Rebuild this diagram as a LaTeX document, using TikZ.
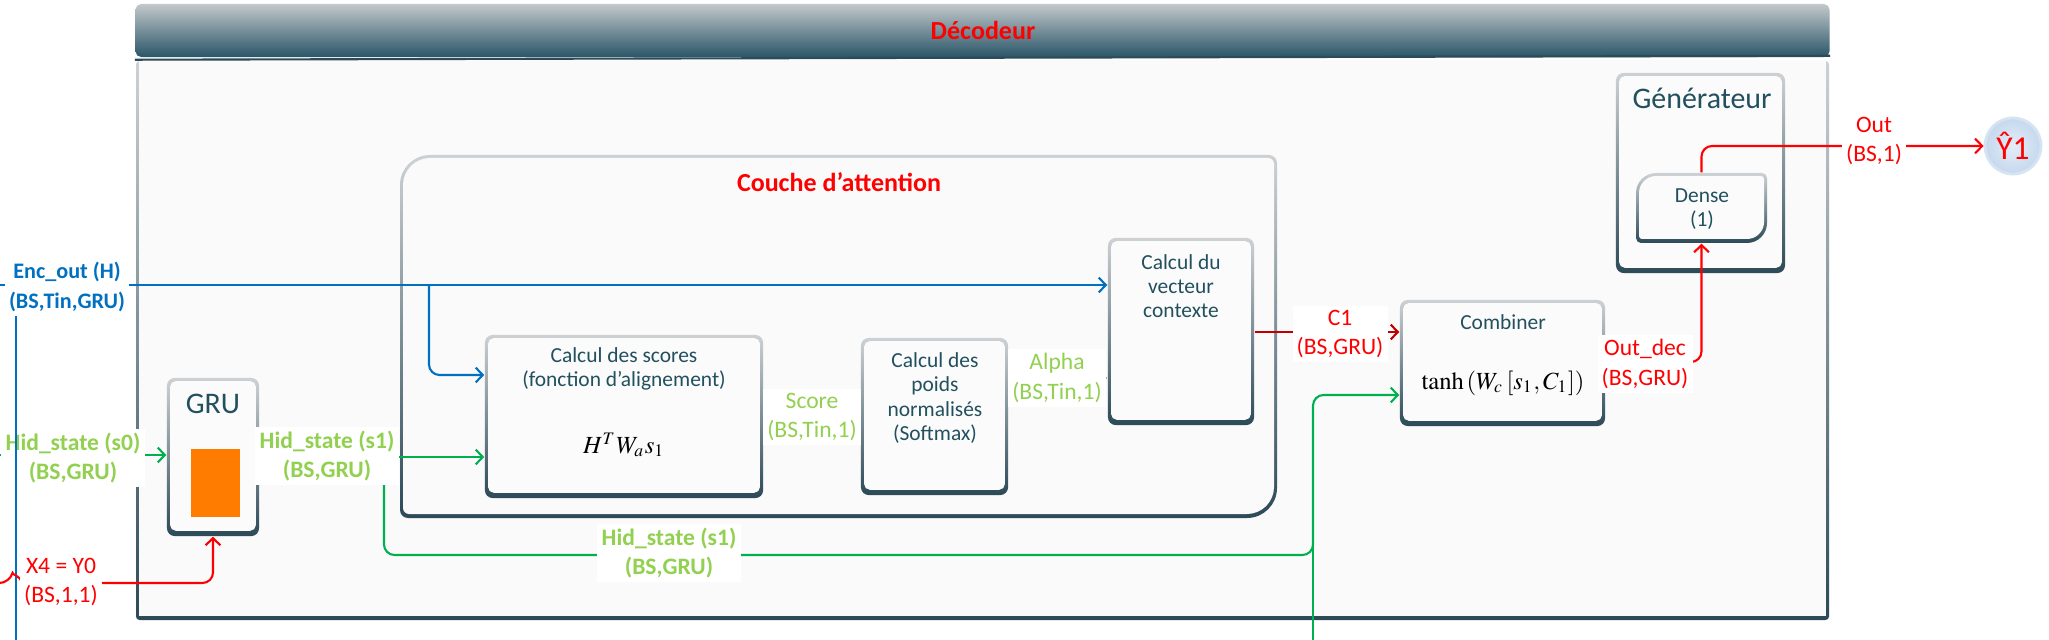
\documentclass[tikz,border=0pt]{standalone}
\usepackage{mathptmx}
\usepackage{fontspec}
\setmainfont{Carlito}
\usetikzlibrary{arrows.meta,calc}
\definecolor{bordlight}{HTML}{CDD1D4}
\definecolor{borddark}{HTML}{2C4A57}
\definecolor{boxfill}{HTML}{FBFBFB}
\definecolor{bodyfill}{HTML}{FAFAFA}
\definecolor{tbtop}{HTML}{C3C8CB}
\definecolor{tbbot}{HTML}{2A5668}
\definecolor{txtteal}{HTML}{22505F}
\definecolor{encblue}{HTML}{0070C0}
\definecolor{hidgreen}{HTML}{00B050}
\definecolor{lblgreen}{HTML}{92D050}
\definecolor{redc}{HTML}{FF0000}
\definecolor{darkredc}{HTML}{C00000}
\definecolor{orangec}{HTML}{FF7C00}
\definecolor{yin}{HTML}{E4EDF7}
\definecolor{yout}{HTML}{C5D8EE}
\definecolor{yedge}{HTML}{D6E3F1}

\newcommand{\diagpath}[6]{({#1+#5},#2) -- ({#3-#6},#2) .. controls ({#3-0.45*#6},#2) and (#3,{#2+0.45*#6}) .. (#3,{#2+#6}) -- (#3,{#4-#5}) .. controls (#3,{#4-0.45*#5}) and ({#3-0.45*#5},#4) .. ({#3-#5},#4) -- ({#1+#6},#4) .. controls ({#1+0.45*#6},#4) and (#1,{#4-0.45*#6}) .. (#1,{#4-#6}) -- (#1,{#2+#5}) .. controls (#1,{#2+0.45*#5}) and ({#1+0.45*#5},#2) .. ({#1+#5},#2) -- cycle}

\tikzset{
  gbox/.style={rectangle, rounded corners=2.2pt, top color=bordlight, bottom color=borddark, inner sep=0pt,
    path picture={\fill[boxfill, rounded corners=1.6pt] ([shift={(0.9pt,-0.9pt)}]path picture bounding box.north west) rectangle ([shift={(-0.9pt,1.5pt)}]path picture bounding box.south east);}},
  boxtxt/.style={text=txtteal, font=\fontsize{6.1}{6.9}\selectfont, align=center, inner sep=0pt},
  bigtxt/.style={text=txtteal, font=\fontsize{8.5}{10}\selectfont, inner sep=0pt},
  formula/.style={inner sep=0pt, font=\fontsize{7}{8}\selectfont},
  lbl/.style={fill=white, align=center, inner sep=1.2pt, font=\fontsize{6.7}{8.3}\selectfont},
  lblb/.style={fill=white, align=center, inner sep=1.2pt, font=\fontsize{6.7}{8.3}\selectfont\bfseries},
  conn/.style={line width=0.6pt, rounded corners=3pt},
  myarrow/.style={-{Straight Barb[length=2pt,width=4.2pt,line width=0.6pt]}},
  redtitle/.style={text=redc, font=\fontsize{7.4}{9}\selectfont\bfseries, inner sep=0pt},
}

\begin{document}
\begin{tikzpicture}[x=0.01cm,y=-0.01cm]
\useasboundingbox[fill=white] (0,0) rectangle (2049,640);

% Decoder body
\shade[top color=bordlight, bottom color=borddark, rounded corners=1pt] (136,61) rectangle (1829,620);
\fill[bodyfill] (139,60) rectangle (1826,616);
% title bar
\node[rectangle, rounded corners=1.6pt, top color=tbtop, bottom color=tbbot, minimum width=16.93cm, minimum height=5.3mm, inner sep=0pt] (dectitle) at (982.5,30.5) {};
\draw[borddark, line width=0.6pt] (dectitle.south west) ++(0,2) -- ([yshift=0.55pt]dectitle.south east);
\node[redtitle] (dectxt) at (983,30) {Décodeur};

% Attention layer
\shade[top color=bordlight, bottom color=borddark] \diagpath{400}{155}{1277}{518}{30}{8};
\fill[bodyfill] \diagpath{403}{158}{1274}{514}{27}{6};
\node[redtitle] (couchetxt) at (839,182) {Couche d’attention};

% GRU
\node[gbox, minimum width=9.2mm, minimum height=15.8mm] (gru) at (213,457) {};
\node[bigtxt] (grutxt) at (213,404) {GRU};
\node[fill=orangec, minimum width=4.9mm, minimum height=6.8mm, inner sep=0pt] (grucell) at (215.5,483) {};

% Scores
\node[gbox, minimum width=27.8mm, minimum height=16.3mm] (scores) at (624,416.5) {};
\node[boxtxt] (scorestxt) at (624,369) {Calcul des scores\\(fonction d’alignement)};
\node[formula] (scoresf) at (624,445) {$H^{T}W_{a}s_{1}$};

% Softmax
\node[gbox, minimum width=14.7mm, minimum height=15.7mm] (poids) at (934.5,416.5) {};
\node[boxtxt] (poidstxt) at (935,398) {Calcul des\\poids\\normalisés\\(Softmax)};

% Context vector
\node[gbox, minimum width=14.6mm, minimum height=18.7mm] (vec) at (1181,331.5) {};
\node[boxtxt] (vectxt) at (1181,286) {Calcul du\\vecteur\\contexte};

% Combiner
\node[gbox, minimum width=20.5mm, minimum height=12.6mm] (comb) at (1502.5,363) {};
\node[boxtxt] (combtxt) at (1503,322) {Combiner};
\node[formula] (combf) at (1503,383) {$\tanh\left(W_{c}\left[s_{1},C_{1}\right]\right)$};

% Generator
\node[gbox, minimum width=16.9mm, minimum height=20mm] (gen) at (1700.5,173) {};
\node[bigtxt] (gentxt) at (1702,98) {Générateur};
\shade[top color=bordlight, bottom color=borddark] \diagpath{1636}{173}{1767}{243}{20}{5};
\fill[boxfill] \diagpath{1639}{176}{1764}{239}{17}{3};
\node[minimum width=13.1mm, minimum height=7mm, inner sep=0pt] (dense) at (1701.5,208) {};
\node[boxtxt] (densetxt) at (1702,209) {Dense\\(1)};

% Output circle
\node[circle, minimum size=5.6mm, inner sep=0pt, draw=yedge, line width=0.8pt, inner color=yin, outer color=yout, text=redc, font=\fontsize{9.5}{10}\selectfont] (yhat) at (2013,146) {Ŷ1};

% coordinates
\coordinate (encL) at (0,285);
\coordinate (encB) at (429,285);
\coordinate (h0L) at (0,455);
\coordinate (h1B) at (384,457);
\coordinate (h1C) at (1313,555);
\coordinate (thinT) at (1313,505);
\coordinate (thinB) at (1313,640);
\coordinate (vbot) at (16,640);
\coordinate (x4L) at (0,583);
\coordinate (x4A) at (10,583);
\coordinate (x4B) at (22,583);

% connectors
\draw[conn, encblue, myarrow] (encL) -- (vec.west |- encL);
\draw[conn, encblue, myarrow] (encB) |- (scores.west |- 0,375);
\draw[conn, hidgreen, myarrow] (h0L) -- (gru.west |- h0L);
\draw[conn, hidgreen, myarrow] (gru.east |- h1B) -- (scores.west |- h1B);
\draw[conn, hidgreen, myarrow] (h1B) |- (h1C) |- (comb.west |- 0,395);
\draw[hidgreen, line width=0.45pt] (thinT) -- (thinB);
\draw[conn, lblgreen, myarrow] (scores.east |- 0,417) -- (poids.west |- 0,417);
\draw[conn, lblgreen, myarrow] (poids.east |- 0,378) -- (vec.west |- 0,378);
\draw[conn, darkredc, myarrow] (vec.east |- 0,332) -- (comb.west |- 0,332);
\draw[conn, redc, myarrow] (comb.east |- 0,362) -| (dense.south);
\draw[conn, redc, myarrow] (dense.north) |- (yhat.west);

% labels
\node[lblb, text=encblue, font=\fontsize{6.3}{8.3}\selectfont\bfseries] (enclbl) at (67,287) {Enc\_out (H)\\(BS,Tin,GRU)};
\node[lblb, text=lblgreen] (h0lbl) at (73,458) {Hid\_state (s0)\\(BS,GRU)};
\draw[encblue, line width=0.5pt] (enclbl.south -| vbot) -- (vbot);
\draw[conn, redc] (x4L) -- (x4A) .. controls (12,575) and (20,575) .. (x4B);
\draw[conn, redc, myarrow] (x4B) -| (gru.south);
\node[lbl, text=redc] (x4lbl) at (61,582) {X4 = Y0\\(BS,1,1)};
\node[lblb, text=lblgreen] (h1lbl) at (327,456) {Hid\_state (s1)\\(BS,GRU)};
\node[lblb, text=lblgreen] (h1lbl2) at (669,553) {Hid\_state (s1)\\(BS,GRU)};
\node[lbl, text=lblgreen] (scorelbl) at (812,417) {Score\\(BS,Tin,1)};
\node[lbl, text=lblgreen] (alphalbl) at (1057,378) {Alpha\\(BS,Tin,1)};
\node[lbl, text=redc] (c1lbl) at (1340,334) {C1\\(BS,GRU)};
\node[lbl, text=redc] (outdeclbl) at (1645,364) {Out\_dec\\(BS,GRU)};
\node[lbl, text=redc] (outlbl) at (1874,141) {Out\\(BS,1)};
\end{tikzpicture}
\end{document}
